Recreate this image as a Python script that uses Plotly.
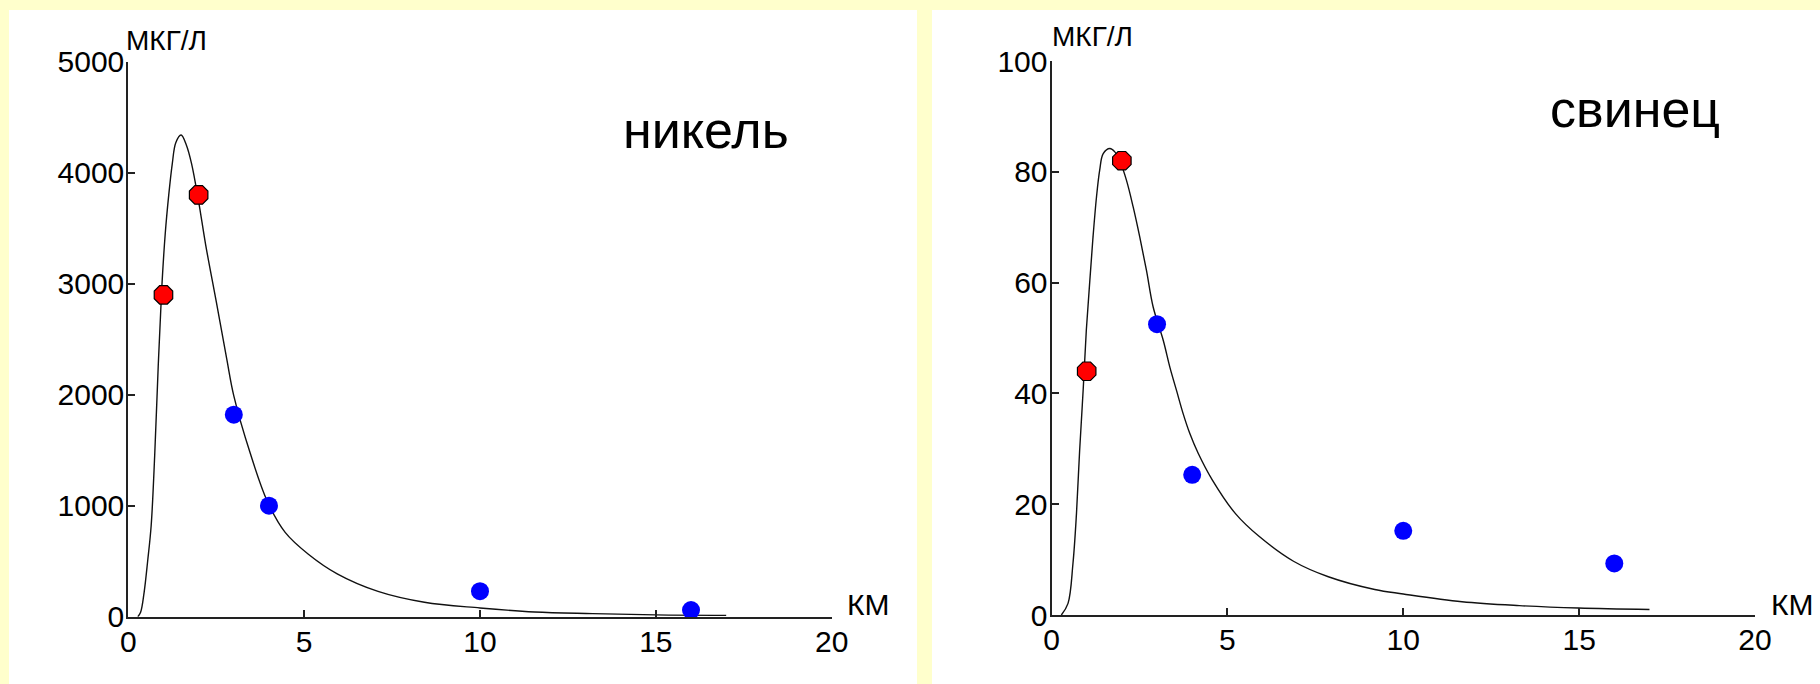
import plotly.graph_objects as go

W, H = 1820, 684

# ---- nickel (никель) ----
ni_curve_x = [0.27, 0.35, 0.45, 0.55, 0.65, 0.75, 0.85, 0.95, 1.05, 1.15, 1.25, 1.35, 1.50,
              1.65, 1.80, 2.00, 2.20, 2.50, 2.80, 3.00, 3.47, 3.96, 4.46, 5.12, 5.94,
              7.10, 8.42, 10.0, 11.55, 13.2, 15.0, 17.0]
ni_curve_y = [0, 40, 220, 500, 820, 1450, 2250, 2950, 3450, 3800, 4080, 4270, 4339,
              4250, 4080, 3740, 3350, 2840, 2320, 1990, 1470, 1035, 760, 563, 386,
              228, 130, 79, 43, 28, 16, 12]
ni_red_x = [1, 2]
ni_red_y = [2900, 3800]
ni_blue_x = [3, 4, 10, 16]
ni_blue_y = [1820, 1000, 230, 60]

# ---- lead (свинец) ----
pb_curve_x = [0.28, 0.47, 0.61, 0.71, 0.80, 0.90, 0.99, 1.09, 1.18, 1.28, 1.37, 1.47, 1.66, 1.80,
              1.95, 2.13, 2.32, 2.51, 2.70, 2.89, 3.18, 3.37, 3.56, 3.74, 3.93, 4.17, 4.57, 5.23,
              5.90, 6.88, 7.87, 9.19, 10.0, 11.67, 13.3, 14.98, 17.0]
pb_curve_y = [0, 2.1, 9.3, 18.3, 29.7, 40.6, 51.4, 60.4, 68.2, 75.5, 80.3, 83.3, 84.2, 83.6,
              81.8, 78.5, 73.7, 68.2, 62.2, 55.6, 49.5, 44.6, 40.4, 36.4, 32.8, 29.2, 24.4, 18.3,
              14.2, 9.7, 6.9, 4.6, 3.8, 2.4, 1.7, 1.26, 1.0]
pb_red_x = [1, 2]
pb_red_y = [44, 82]
pb_blue_x = [3, 4, 10, 16]
pb_blue_y = [52.5, 25.3, 15.2, 9.3]

x_ticks = [0, 5, 10, 15, 20]
ni_y_ticks = [0, 1000, 2000, 3000, 4000, 5000]
pb_y_ticks = [0, 20, 40, 60, 80, 100]

titles = ["никель", "свинец"]
y_unit = "МКГ/Л"
x_unit = "КМ"

FONT = "Liberation Sans, Arial, sans-serif"
BG = "#FFFFCC"


def px_x(p):
    return p / W


def px_y(p):
    return 1 - p / H


fig = go.Figure()

panels = [
    ("x", "y", ni_curve_x, ni_curve_y, ni_red_x, ni_red_y, ni_blue_x, ni_blue_y),
    ("x2", "y2", pb_curve_x, pb_curve_y, pb_red_x, pb_red_y, pb_blue_x, pb_blue_y),
]
for xa, ya, cx, cy, rx, ry, bx, by in panels:
    fig.add_trace(go.Scatter(x=cx, y=cy, mode="lines", xaxis=xa, yaxis=ya,
                             line=dict(color="#111111", width=1.4, shape="spline", smoothing=1.0),
                             cliponaxis=False, showlegend=False, hoverinfo="skip"))
    fig.add_trace(go.Scatter(x=bx, y=by, mode="markers", xaxis=xa, yaxis=ya,
                             marker=dict(symbol="circle", size=18, color="#0000FF",
                                         line=dict(width=0)),
                             cliponaxis=False, showlegend=False))
    fig.add_trace(go.Scatter(x=rx, y=ry, mode="markers", xaxis=xa, yaxis=ya,
                             marker=dict(symbol="octagon", size=20, color="#FF0000",
                                         line=dict(width=1.2, color="#000000")),
                             cliponaxis=False, showlegend=False))

axis_common = dict(showline=True, linecolor="#222222", linewidth=2, showgrid=False,
                   zeroline=False, ticks="inside", ticklen=7, tickwidth=1.5, tickcolor="#222222",
                   automargin=False,
                   tickfont=dict(family=FONT, size=30, color="#000000"), fixedrange=True)
x_axis = dict(ticklabelstandoff=-3, **axis_common)
y_axis = dict(ticklabelstandoff=-4, **axis_common)

fig.update_layout(
    template="none",
    width=W, height=H,
    margin=dict(l=0, r=0, t=0, b=0, pad=0, autoexpand=False),
    paper_bgcolor=BG,
    plot_bgcolor="rgba(0,0,0,0)",
    showlegend=False,
    xaxis=dict(domain=[px_x(128.3), px_x(831.7)], range=[0, 20], tickvals=x_ticks,
               anchor="y", **x_axis),
    yaxis=dict(domain=[px_y(616.7), px_y(61.7)], range=[0, 5000], tickvals=ni_y_ticks,
               anchor="x", **y_axis),
    xaxis2=dict(domain=[px_x(1051.5), px_x(1755)], range=[0, 20], tickvals=x_ticks,
                anchor="y2", **x_axis),
    yaxis2=dict(domain=[px_y(615), px_y(61)], range=[0, 100], tickvals=pb_y_ticks,
                anchor="x2", **y_axis),
)

# white panels behind each chart
for x0, x1 in [(9, 917), (932, 1820)]:
    fig.add_shape(type="rect", xref="paper", yref="paper", layer="below",
                  x0=px_x(x0), x1=px_x(x1), y0=0, y1=px_y(10),
                  fillcolor="#FFFFFF", line=dict(width=0))


def label(text, x, y, size, xanchor="left"):
    fig.add_annotation(text=text, xref="paper", yref="paper", x=px_x(x), y=px_y(y),
                       xanchor=xanchor, yanchor="middle", showarrow=False,
                       font=dict(family=FONT, size=size, color="#000000"))


label(y_unit, 124, 40.3, 28)
label(y_unit, 1050, 36.3, 28)
label(x_unit, 845, 604, 30)
label(x_unit, 1769, 604, 30)
label(titles[0], 705.8, 130, 52, xanchor="center")
label(titles[1], 1635, 109, 52, xanchor="center")

fig.write_html("out.html")
